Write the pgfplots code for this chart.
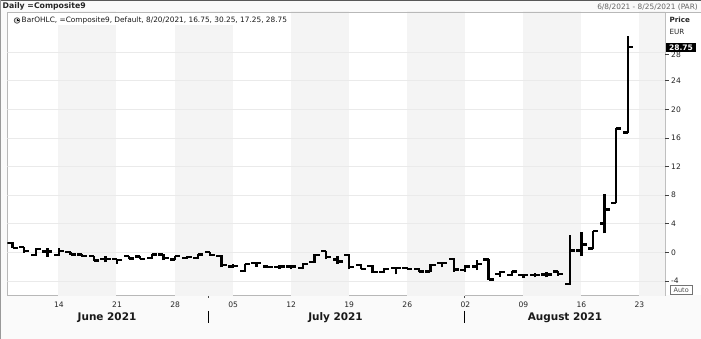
\documentclass[border=0pt]{standalone}
\usepackage{pgfplots}
\pgfplotsset{compat=1.18}
\usepackage{pgfplotstable}
\usepackage{fontspec}
\setmainfont{DejaVu Sans}
\definecolor{band}{HTML}{F4F4F4}
\definecolor{gridc}{HTML}{EAEAEA}
\definecolor{framec}{HTML}{B8B8B8}
\definecolor{bgc}{HTML}{FAFAFA}
\pgfplotstableread{
x o h l c
-4 1.3 1.4 0.6 0.6
-3 0.7 0.75 -0.05 0.15
-2 -0.4 0.6 -0.5 0.5
-1 0.1 0.65 -0.6 0.1
0 -0.4 0.65 -0.5 0.2
1 0.0 0.1 -0.4 -0.3
2 -0.3 -0.2 -0.6 -0.5
3 -0.55 -0.5 -1.2 -1.15
4 -0.95 -0.5 -1.4 -0.95
5 -0.9 -0.9 -1.6 -1.1
6 -0.5 -0.5 -1.0 -0.85
7 -0.6 -0.55 -1.0 -0.9
8 -0.8 -0.2 -1.0 -0.3
9 -0.3 -0.2 -1.1 -0.75
10 -1.0 -0.45 -1.1 -0.5
11 -0.8 -0.5 -0.9 -0.7
12 -0.75 -0.2 -0.9 -0.3
13 0.05 0.1 -0.5 -0.4
14 -0.5 -0.4 -2.1 -1.8
15 -2.0 -1.6 -2.2 -1.9
16 -2.6 -1.6 -2.7 -1.6
17 -1.5 -1.3 -2.0 -1.5
18 -2.0 -1.9 -2.2 -2.1
19 -2.1 -1.8 -2.3 -2.0
20 -2.0 -1.9 -2.4 -2.0
21 -2.2 -1.5 -2.4 -1.6
22 -1.4 -0.3 -1.5 -0.35
23 0.2 0.25 -1.0 -0.7
24 -1.0 -0.5 -1.6 -1.3
25 -0.4 -0.3 -2.4 -2.1
26 -1.8 -1.7 -2.4 -2.3
27 -1.9 -1.8 -2.9 -2.8
28 -2.8 -2.2 -2.9 -2.3
29 -2.2 -2.1 -3.1 -2.2
30 -2.2 -2.0 -2.4 -2.3
31 -2.3 -2.2 -2.8 -2.7
32 -2.7 -1.7 -2.8 -1.8
33 -1.5 -1.4 -2.1 -1.5
34 -0.9 -0.8 -2.7 -2.4
35 -2.5 -1.8 -2.7 -2.0
36 -2.0 -1.1 -2.5 -1.6
37 -1.0 -0.95 -3.9 -3.8
38 -3.0 -2.6 -3.4 -2.8
39 -3.2 -2.6 -3.3 -2.7
40 -3.2 -3.0 -3.6 -3.2
41 -3.2 -2.9 -3.5 -3.15
42 -3.1 -2.8 -3.5 -3.1
43 -2.7 -2.6 -3.3 -3.0
44 -4.45 2.4 -4.55 0.25
45 0.25 2.8 -0.5 1.1
46 0.55 3.0 0.45 3.0
47 4.05 8.2 2.65 6.0
48 6.85 17.4 6.85 17.3
49 16.75 30.25 16.75 28.75
}\ohlc
\begin{document}
\begin{tikzpicture}
\path[use as bounding box] (0,0) rectangle (701bp,339bp);
\fill[bgc] (0,0) rectangle (701bp,339bp);
\fill[white] (665bp,43.5bp) rectangle (701bp,327bp);
\begin{axis}[at={(7.3bp,43.5bp)}, anchor=south west, scale only axis,
  width=657.7bp, height=283.5bp,
  xmin=-4.453, xmax=52.2, ymin=-6.04, ymax=33.61,
  axis background/.style={fill=white},
  axis line style={draw=framec, line width=0.7bp},
  ticks=none, clip=true]
\fill[band] (axis cs:-0.05,-10) rectangle (axis cs:4.95,40);
\fill[band] (axis cs:9.95,-10) rectangle (axis cs:14.95,40);
\fill[band] (axis cs:19.95,-10) rectangle (axis cs:24.95,40);
\fill[band] (axis cs:29.95,-10) rectangle (axis cs:34.95,40);
\fill[band] (axis cs:39.95,-10) rectangle (axis cs:44.95,40);
\fill[band] (axis cs:49.95,-10) rectangle (axis cs:60,40);
\draw[gridc, line width=0.6bp] (axis cs:-10,-4) -- (axis cs:60,-4);
\draw[gridc, line width=0.6bp] (axis cs:-10,0) -- (axis cs:60,0);
\draw[gridc, line width=0.6bp] (axis cs:-10,4) -- (axis cs:60,4);
\draw[gridc, line width=0.6bp] (axis cs:-10,8) -- (axis cs:60,8);
\draw[gridc, line width=0.6bp] (axis cs:-10,12) -- (axis cs:60,12);
\draw[gridc, line width=0.6bp] (axis cs:-10,16) -- (axis cs:60,16);
\draw[gridc, line width=0.6bp] (axis cs:-10,20) -- (axis cs:60,20);
\draw[gridc, line width=0.6bp] (axis cs:-10,24) -- (axis cs:60,24);
\draw[gridc, line width=0.6bp] (axis cs:-10,28) -- (axis cs:60,28);
\addplot[draw=none, mark=none, forget plot,
  error bars/.cd, y dir=plus, y explicit, error mark=none,
  error bar style={draw=black, line width=2.3bp}]
  table[x=x, y=l, y error expr=\thisrow{h}-\thisrow{l}] {\ohlc};
\addplot[draw=none, mark=none, forget plot,
  error bars/.cd, x dir=minus, x fixed=0.44, error mark=none,
  error bar style={draw=black, line width=2.3bp}]
  table[x=x, y=o] {\ohlc};
\addplot[draw=none, mark=none, forget plot,
  error bars/.cd, x dir=plus, x fixed=0.44, error mark=none,
  error bar style={draw=black, line width=2.3bp}]
  table[x=x, y=c] {\ohlc};
\end{axis}
\begin{scope}[x=1bp, y=-1bp, shift={(0,339bp)}]
  % frames
  \draw[black!65, line width=1bp] (0,0.5) -- (701,0.5);
  \fill[black!40] (0,0) rectangle (1.5,339);
  \draw[framec, line width=0.8bp] (7.3,12) -- (701,12);
  % title and header
  \node[anchor=west, inner sep=0, font=\bfseries\fontsize{7.8}{9}\selectfont, text=black!85] at (2.5,6.5) {Daily =Composite9};
  \node[anchor=east, inner sep=0, font=\fontsize{7.4}{9}\selectfont, text=black!60] at (698,7.5) {6/8/2021 - 8/25/2021 (PAR)};
  % legend
  \fill[white] (8,13) rectangle (288,25.5);
  \draw[black!70, fill=gray!35, line width=0.7bp] (17,20.5) circle (2.8);
  \draw[black, line width=0.6bp] (17,20.5) -- (17,18.6) (17,20.5) -- (18.6,20.5);
  \node[anchor=west, inner sep=0, font=\fontsize{7.4}{9}\selectfont, text=black!90] at (21.5,20.5) {BarOHLC, =Composite9, Default, 8/20/2021, 16.75, 30.25, 17.25, 28.75};
  % right axis
  \node[anchor=west, inner sep=0, font=\bfseries\fontsize{7.2}{9}\selectfont, text=black!85] at (669.5,20) {Price};
  \node[anchor=west, inner sep=0, font=\fontsize{7.2}{9}\selectfont, text=black!85] at (669.5,31.5) {EUR};
  \foreach \t/\p in {-4/280.9, 0/252.3, 4/223.7, 8/195.1, 12/166.5, 16/137.9, 20/109.3, 24/80.7, 28/54.5} {
    \draw[black!75, line width=0.7bp] (665,\p) -- (669,\p);
    \node[anchor=west, inner sep=0, font=\fontsize{7.6}{9}\selectfont, text=black!85] at (671,\p) {\t};
  }
  \fill[black] (666,43) rectangle (696,52.5);
  \node[inner sep=0, font=\bfseries\fontsize{7.6}{9}\selectfont, text=white] at (681,47.8) {28.75};
  \draw[black!55, fill=white, line width=0.6bp] (670.5,285.5) rectangle (692,294.5);
  \node[inner sep=0, font=\fontsize{6.5}{8}\selectfont, text=black!70] at (681.2,290) {Auto};
  % x labels
  \foreach \p/\t in {59/14, 117.05/21, 175.1/28, 233.15/05, 291.2/12, 349.25/19, 407.3/26, 465.35/02, 523.4/09, 581.45/16, 639.5/23} {
    \node[inner sep=0, font=\fontsize{7.6}{9}\selectfont, text=black!85] at (\p,304.5) {\t};
  }
  \node[inner sep=0, font=\bfseries\fontsize{10.5}{12}\selectfont, text=black!90] at (107,317.5) {June 2021};
  \node[inner sep=0, font=\bfseries\fontsize{10.5}{12}\selectfont, text=black!90] at (335.5,317.5) {July 2021};
  \node[inner sep=0, font=\bfseries\fontsize{10.5}{12}\selectfont, text=black!90] at (565,317.5) {August 2021};
  \draw[black, line width=0.9bp] (208.3,311) -- (208.3,323.5);
  \draw[black, line width=0.9bp] (464.3,311) -- (464.3,323.5);
  \draw[black!70, line width=0.8bp] (208.3,296) -- (208.3,298.5);
  \draw[black!70, line width=0.8bp] (464.3,296) -- (464.3,298.5);
\end{scope}
\end{tikzpicture}
\end{document}
